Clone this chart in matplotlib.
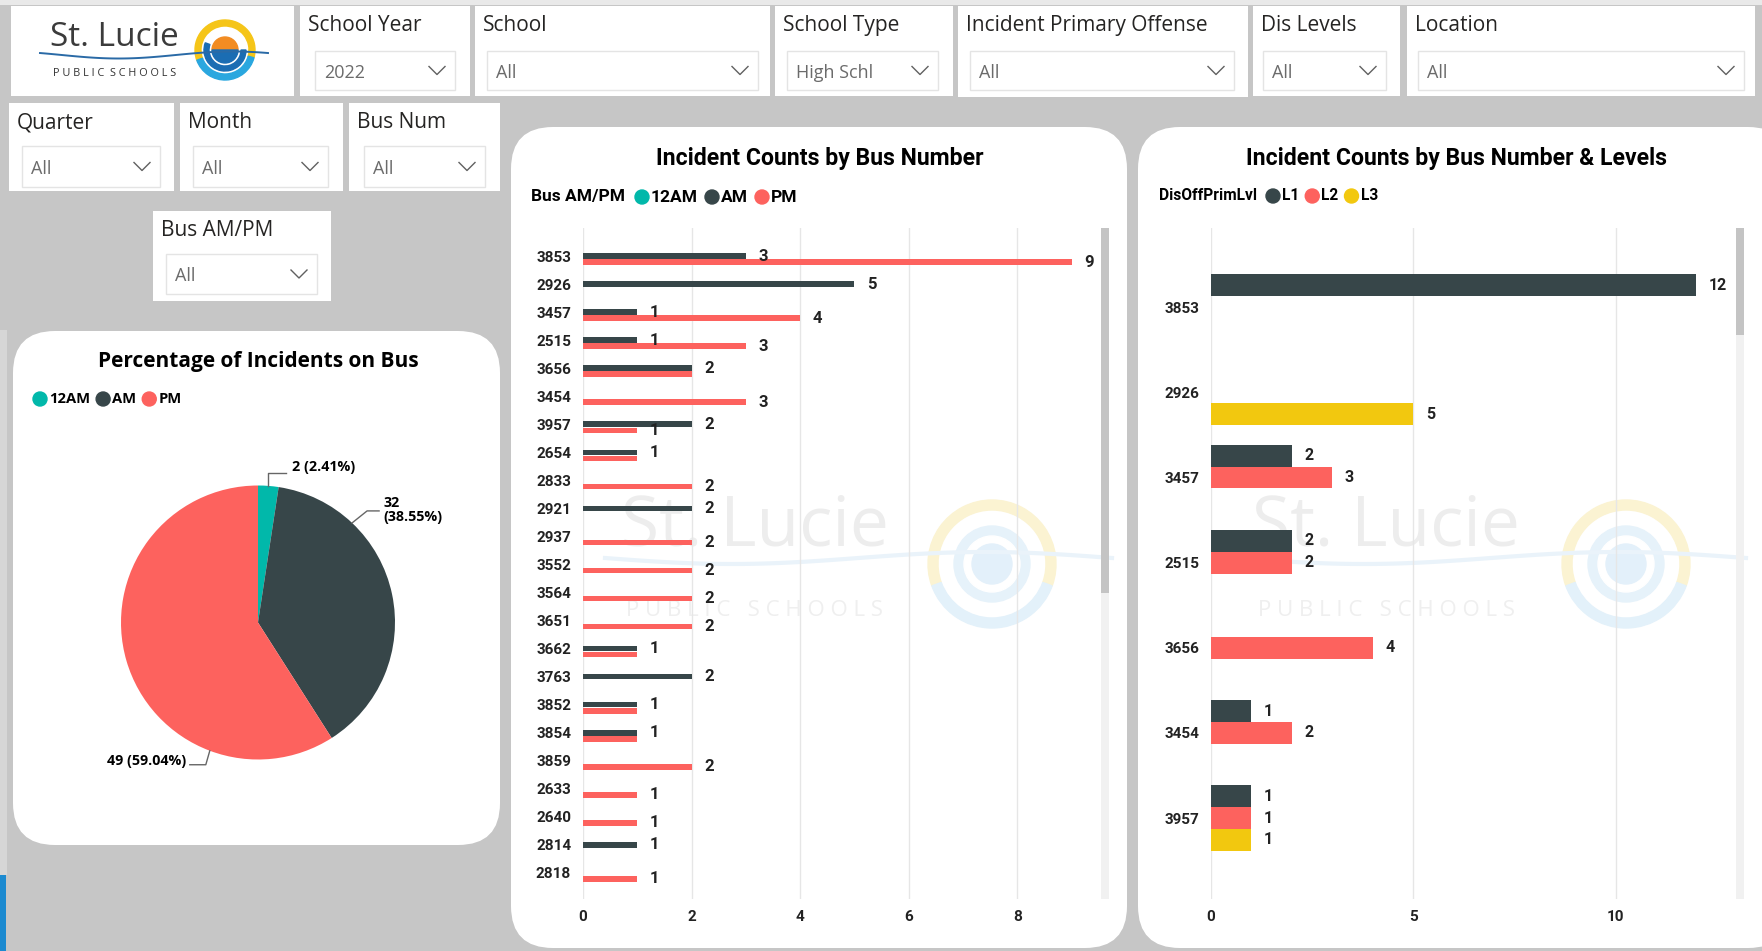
import matplotlib
matplotlib.use("Agg")
import matplotlib.pyplot as plt
import numpy as np
from matplotlib import font_manager
from matplotlib.patches import FancyBboxPatch, Rectangle, Circle, Wedge

W, H = 1762, 951

# ---- data ----
bus_nums = ["3853", "2926", "3457", "2515", "3656", "3454", "3957", "2654",
            "2833", "2921", "2937", "3552", "3564", "3651", "3662", "3763",
            "3852", "3854", "3859", "2633", "2640", "2814", "2818"]
am12_counts = [0, 0, 0, 0, 0, 0, 0, 0, 0, 0, 0, 0, 0, 0, 0, 0, 0, 0, 0, 0, 0, 0, 0]
am_counts = [3, 5, 1, 1, 2, 0, 2, 1, 0, 2, 0, 0, 0, 0, 1, 2, 1, 1, 0, 0, 0, 1, 0]
pm_counts = [9, 0, 4, 3, 2, 3, 1, 1, 2, 0, 2, 2, 2, 2, 1, 0, 1, 1, 2, 1, 1, 0, 1]
ampm_names = ["12AM", "AM", "PM"]

level_buses = ["3853", "2926", "3457", "2515", "3656", "3454", "3957"]
l1_counts = [12, 0, 2, 2, 0, 1, 1]
l2_counts = [0, 0, 3, 2, 4, 2, 1]
l3_counts = [0, 5, 0, 0, 0, 0, 1]
level_names = ["L1", "L2", "L3"]

pie_names = ["12AM", "AM", "PM"]
pie_counts = [2, 32, 49]

top_slicers = [("School Year", "2022"), ("School", "All"), ("School Type", "High Schl"),
               ("Incident Primary Offense", "All"), ("Dis Levels", "All"), ("Location", "All")]
row2_slicers = [("Quarter", "All"), ("Month", "All"), ("Bus Num", "All")]
ampm_slicer = ("Bus AM/PM", "All")

TEAL, DARK, RED, YEL = "#01B8AA", "#374649", "#FD625E", "#F2C80F"
BG = "#c6c6c6"

installed = {f.name for f in font_manager.fontManager.ttflist}


def pick(*names):
    for n in names:
        if n in installed:
            return n
    return "DejaVu Sans"


UI = pick("Open Sans", "Noto Sans", "DejaVu Sans")
DIN = pick("Roboto", "Lato", "DejaVu Sans")


def rect(x0, y0, x1, y1):
    return [x0 / W, 1 - y1 / H, (x1 - x0) / W, (y1 - y0) / H]


fig = plt.figure(figsize=(W / 100, H / 100), dpi=100)
fig.patch.set_facecolor(BG)
bg = fig.add_axes([0, 0, 1, 1])
bg.set_xlim(0, W)
bg.set_ylim(H, 0)
bg.axis("off")
renderer = fig.canvas.get_renderer()


def panel(x0, y0, x1, y1, r=0, fc="white", ec="none", z=1):
    if r:
        p = FancyBboxPatch((x0, y0), x1 - x0, y1 - y0,
                           boxstyle=f"round,pad=0,rounding_size={r}",
                           fc=fc, ec=ec, lw=1, zorder=z)
    else:
        p = Rectangle((x0, y0), x1 - x0, y1 - y0, fc=fc, ec=ec, lw=1, zorder=z)
    bg.add_patch(p)


def slicer(box, drop, title, value):
    x0, y0, x1, y1 = box
    panel(x0, y0, x1, y1)
    bg.text(x0 + 8, y0 + 19.5, title, fontsize=15, family=UI, color="#252423", va="center", zorder=3)
    dx0, dy0, dx1, dy1 = drop
    panel(dx0, dy0, dx1, dy1, ec="#e4e4e4", z=2)
    cy = (dy0 + dy1) / 2
    bg.text(dx0 + 9, cy + 2, value, fontsize=13, family=UI, color="#6b6b6b", va="center", zorder=3)
    cx = dx1 - 18
    bg.plot([cx - 8, cx, cx + 8], [cy - 4, cy + 4, cy - 4], color="#606060", lw=1.0, zorder=3)


def legend_row(x, y, head, names, colors, size, family, gap=7):
    if head:
        t = bg.text(x, y, head, fontsize=size, fontweight="bold", family=family, va="center", zorder=3)
        x = t.get_window_extent(renderer).x1 + gap + 3
    for name, col in zip(names, colors):
        bg.add_patch(Circle((x + 7, y), 7, color=col, zorder=3))
        t = bg.text(x + 16, y, name, fontsize=size, fontweight="bold", family=family, va="center", zorder=3)
        x = t.get_window_extent(renderer).x1 + gap


def watermark(cx, cy, lx, ly):
    bg.text(cx, cy, "St. Lucie", fontsize=50, family=UI, color="#ededed", ha="center", va="center", zorder=1.5)
    bg.text(cx, cy + 82, " ".join("PUBLIC SCHOOLS"), fontsize=16, family=UI, color="#efefef",
            ha="center", va="center", zorder=1.5)
    bg.add_patch(Wedge((lx, ly), 64, -200, 20, width=10, color="#fbf3d2", zorder=1.5))
    bg.add_patch(Wedge((lx, ly), 64, 20, 160, width=10, color="#e3f1fa", zorder=1.5))
    bg.add_patch(Circle((lx, ly), 38, color="#e6f2fa", zorder=1.5))
    bg.add_patch(Circle((lx, ly), 28, color="white", zorder=1.5))
    bg.add_patch(Circle((lx, ly), 20, color="#e3f0fa", zorder=1.5))
    xs = np.linspace(cx - 150, lx + 120, 80)
    bg.plot(xs, ly - 6 + 6 * np.sin((xs - xs[0]) / (xs[-1] - xs[0]) * 2 * np.pi), color="#eaf3fa", lw=3, zorder=1.5)


# ---- canvas ----
bg.add_patch(Rectangle((0, 0), W, 5, fc="#e9e9e9", ec="none"))
bg.add_patch(Rectangle((0, 330), 7, 545, fc="#d6d6d6", ec="none"))
bg.add_patch(Rectangle((0, 875), 6, 80, fc="#1c8ad0", ec="none"))

# logo
panel(11, 6, 294, 96)
bg.text(114, 38, "St. Lucie", fontsize=24, family=UI, color="#3b3b3b", ha="center", va="center", zorder=3)
bg.text(115, 74, " ".join("PUBLIC SCHOOLS").replace("   ", "  "), fontsize=7.8, family=UI, color="#333333",
        ha="center", va="center", zorder=3)
lc = (225, 50)
bg.add_patch(Wedge(lc, 30, -200, 15, width=6, color="#f5c518", zorder=3))
bg.add_patch(Wedge(lc, 30, 15, 160, width=6, color="#2aa7df", zorder=3))
bg.add_patch(Wedge(lc, 21, 0, 200, width=5, color="#1b6db3", zorder=3))
bg.add_patch(Wedge(lc, 13, -180, 0, color="#f28c22", zorder=3))
bg.add_patch(Wedge(lc, 13, 0, 180, color="#1b6db3", zorder=3))
sx = np.linspace(40, 268, 100)
bg.plot(sx, 55 + 3.5 * np.sin((sx - 40) / 228 * 2 * np.pi - 0.6), color="#2a6aa6", lw=1.4, zorder=4)

top_boxes = [(300, 6, 470, 96), (475, 6, 770, 96), (775, 6, 953, 96),
             (958, 6, 1248, 97), (1253, 6, 1400, 96), (1407, 6, 1755, 96)]
top_drops = [(315, 51, 455, 90), (487, 51, 758, 90), (787, 51, 938, 90),
             (970, 51, 1234, 90), (1263, 51, 1386, 90), (1418, 51, 1744, 90)]
for (title, value), box, drop in zip(top_slicers, top_boxes, top_drops):
    slicer(box, drop, title, value)

row2_boxes = [(9, 103, 174, 191), (180, 103, 343, 191), (349, 103, 500, 191)]
row2_drops = [(22, 146, 160, 187), (193, 146, 328, 187), (364, 146, 485, 187)]
for (title, value), box, drop in zip(row2_slicers, row2_boxes, row2_drops):
    slicer(box, drop, title, value)
slicer((153, 211, 331, 301), (166, 254, 317, 294), *ampm_slicer)

# ---- pie panel ----
panel(13, 331, 500, 845, r=42)
bg.text(258, 361, "Percentage of Incidents on Bus", fontsize=15, fontweight="bold", family=UI,
        ha="center", va="center", zorder=3)
legend_row(33, 399, None, pie_names, [TEAL, DARK, RED], 10.6, UI, gap=6)

R = 137.0
ax3 = fig.add_axes(rect(258 - 1.5 * R, 622.5 - 1.5 * R, 258 + 1.5 * R, 622.5 + 1.5 * R))
ax3.set_facecolor("none")
wedges, _ = ax3.pie(pie_counts, colors=[TEAL, DARK, RED], startangle=90, counterclock=False,
                    radius=1, wedgeprops=dict(linewidth=0))
ax3.set_xlim(-1.5, 1.5)
ax3.set_ylim(-1.5, 1.5)
ax3.set_aspect("equal")
ax3.axis("off")
total = sum(pie_counts)
u = 1 / R
leader = [(0.5, (0, 13), (18, 0), (6, 6), "left", "{v} ({p:.2f}%)"),
          (0.75, (15, 12), (12, 0), (4, 1), "left", "{v}\n({p:.2f}%)"),
          (0.75, (-4, -14), (-16, 0), (-4, 4), "right", "{v} ({p:.2f}%)")]
for w, v, (frac, e, q, toff, ha, fmt) in zip(wedges, pie_counts, leader):
    ang = np.deg2rad(w.theta1 + frac * (w.theta2 - w.theta1))
    px, py = np.cos(ang), np.sin(ang)
    ex, ey = px + e[0] * u, py + e[1] * u
    qx, qy = ex + q[0] * u, ey + q[1] * u
    ax3.plot([px, ex, qx], [py, ey, qy], color="#666666", lw=1, clip_on=False)
    ax3.text(qx + toff[0] * u, qy + toff[1] * u, fmt.format(v=v, p=100 * v / total), ha=ha, va="center",
             fontsize=10.3, fontweight="bold", family=UI, linespacing=1.0, clip_on=False)

# ---- bar chart panels ----
panel(511, 127, 1127, 948, r=42)
panel(1138, 127, 1790, 948, r=42)
watermark(755, 528, 992, 564)
watermark(1386, 528, 1626, 564)

bg.text(820, 158, "Incident Counts by Bus Number", fontsize=16.6, fontweight="bold", family=DIN,
        ha="center", va="center", zorder=3)
legend_row(531, 197, "Bus AM/PM", ampm_names, [TEAL, DARK, RED], 12.5, DIN)
bg.text(1457, 158, "Incident Counts by Bus Number & Levels", fontsize=16.6, fontweight="bold", family=DIN,
        ha="center", va="center", zorder=3)
legend_row(1159, 196, "DisOffPrimLvl", level_names, [DARK, RED, YEL], 11.2, DIN, gap=6)

# scrollbars
bg.add_patch(Rectangle((1101, 228), 8, 671, fc="#f1f1f1", ec="none", zorder=2))
bg.add_patch(Rectangle((1101, 228), 8, 365, fc="#c4c4c4", ec="none", zorder=2))
bg.add_patch(Rectangle((1736, 228), 8, 671, fc="#f1f1f1", ec="none", zorder=2))
bg.add_patch(Rectangle((1736, 228), 8, 107, fc="#c4c4c4", ec="none", zorder=2))


def style_axes(ax):
    ax.set_facecolor("none")
    for s in ax.spines.values():
        s.set_visible(False)
    ax.grid(axis="x", color="#e6e6e6", lw=1)
    ax.set_axisbelow(True)
    ax.tick_params(length=0)
    ax.tick_params(axis="y", pad=8.5)
    ax.tick_params(axis="x", pad=8)
    for lab in ax.get_xticklabels() + ax.get_yticklabels():
        lab.set_fontweight("bold")
        lab.set_fontsize(11)
        lab.set_family(DIN)
        lab.set_color("#222222")


def grouped_bars(ax, series, colors, pitch, height, label_size):
    n = len(series)
    rows = np.arange(len(series[0]))
    shown = {}
    for k, (vals, col) in enumerate(zip(series, colors)):
        pos = rows + (k - (n - 1) / 2) * pitch
        ax.barh(pos, vals, height=height, color=col)
        for r, p, v in zip(rows, pos, vals):
            if v == 0:
                continue
            # Power BI hides a label that would sit right on top of its neighbour
            if height < 0.22 and shown.get(r) == v:
                continue
            shown[r] = v
            ax.annotate(str(v), (v, p), xytext=(9, 0), textcoords="offset points", ha="left",
                        va="center", fontsize=label_size, fontweight="bold", family=DIN, color="#222222")


# middle chart
ax1 = fig.add_axes(rect(583, 228, 1095, 899))
grouped_bars(ax1, [am12_counts, am_counts, pm_counts], [TEAL, DARK, RED], 0.215, 0.2, 12)
ax1.set_yticks(np.arange(len(bus_nums)), bus_nums)
ax1.set_xticks([0, 2, 4, 6, 8])
ax1.set_xlim(0, 9.43)
ax1.set_ylim(22.93, -1.0)
style_axes(ax1)

# right chart
ax2 = fig.add_axes(rect(1211, 228, 1730, 899))
grouped_bars(ax2, [l1_counts, l2_counts, l3_counts], [DARK, RED, YEL], 0.256, 0.256, 11.5)
ax2.set_yticks(np.arange(len(level_buses)), level_buses)
ax2.set_xticks([0, 5, 10])
ax2.set_xlim(0, 12.83)
ax2.set_ylim(6.95, -0.93)
style_axes(ax2)

fig.savefig("out.png", dpi=100, facecolor=BG)
